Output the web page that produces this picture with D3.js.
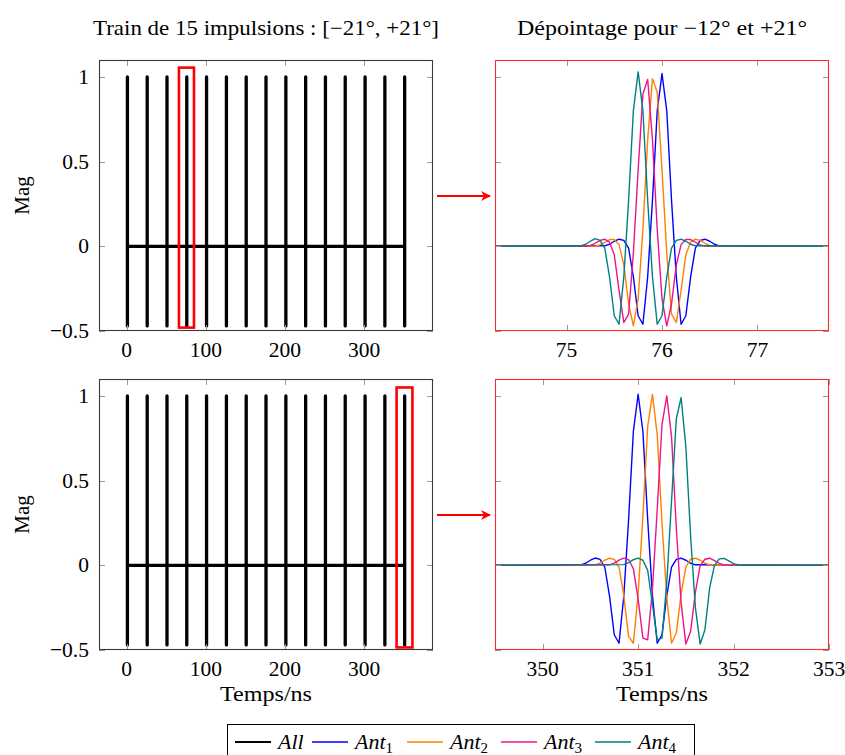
<!DOCTYPE html>
<html><head><meta charset="utf-8">
<script src="https://cdn.jsdelivr.net/npm/d3@7"></script>
<style>body{margin:0;background:#fff}</style></head>
<body><svg id="c" width="845" height="755"></svg>
<script>
// ---------------- data ----------------
const pulseTimes   = [0.9, 25.9, 50.9, 75.9, 100.9, 126.0, 151.0, 176.0, 201.1, 226.1, 251.1, 276.1, 301.2, 326.2, 351.2];
const pulsePeaks   = [1.0, 1.0, 1.0, 1.0, 1.0, 1.0, 1.0, 1.0, 1.0, 1.0, 1.0, 1.0, 1.0, 1.0, 1.0];
const pulseTroughs = [-0.47, -0.47, -0.47, -0.47, -0.47, -0.47, -0.47, -0.47, -0.47, -0.47, -0.47, -0.47, -0.47, -0.47, -0.47];

const leftXTicks = [0, 100, 200, 300];
const yTicks = [-0.5, 0, 0.5, 1];
const yTickLabels = ["\u22120.5", "0", "0.5", "1"];
const topXTicks = [75, 76, 77];
const botXTicks = [350, 351, 352, 353];

const sampleStep = 0.05;
// top-right zoom (pulse n°4, steering -12°)
const topStarts = [75.40, 75.30, 75.20, 75.15];
const topAnt1 = [0.003, 0.012, 0.03, 0.042, 0.035, -0.01, -0.18, -0.41, -0.46, -0.18, 0.27, 0.80, 1.02, 0.80, 0.27, -0.18, -0.46, -0.41, -0.18, -0.01, 0.035, 0.042, 0.03, 0.012, 0.003];
const topAnt2 = [0.001, 0.008, 0.024, 0.04, 0.04, 0.01, -0.11, -0.34, -0.47, -0.31, 0.10, 0.63, 0.99, 0.91, 0.45, -0.04, -0.40, -0.45, -0.26, -0.05, 0.025, 0.042, 0.035, 0.018, 0.005, 0.0];
const topAnt3 = [0.0, 0.005, 0.018, 0.035, 0.042, 0.025, -0.05, -0.26, -0.45, -0.40, -0.04, 0.45, 0.90, 0.985, 0.63, 0.10, -0.31, -0.47, -0.34, -0.11, 0.01, 0.04, 0.04, 0.024, 0.008, 0.001];
const topAnt4 = [0.003, 0.012, 0.03, 0.045, 0.035, -0.01, -0.18, -0.41, -0.46, -0.18, 0.27, 0.80, 1.03, 0.80, 0.27, -0.18, -0.46, -0.41, -0.18, -0.01, 0.035, 0.042, 0.03, 0.012, 0.003];
// bottom-right zoom (pulse n°15, steering +21°)
const botStarts = [350.40, 350.55, 350.70, 350.85];
const botAnt1 = [0.003, 0.012, 0.03, 0.043, 0.035, -0.01, -0.18, -0.41, -0.46, -0.18, 0.27, 0.79, 1.01, 0.79, 0.27, -0.18, -0.46, -0.41, -0.18, -0.01, 0.035, 0.042, 0.03, 0.012, 0.003];
const botAnt2 = [0.003, 0.012, 0.03, 0.042, 0.035, -0.01, -0.18, -0.42, -0.46, -0.17, 0.29, 0.82, 1.01, 0.77, 0.25, -0.19, -0.46, -0.40, -0.17, -0.01, 0.036, 0.042, 0.03, 0.012, 0.003];
const botAnt3 = [0.003, 0.013, 0.031, 0.042, 0.033, -0.02, -0.20, -0.43, -0.44, -0.14, 0.33, 0.83, 1.0, 0.76, 0.22, -0.22, -0.465, -0.39, -0.16, 0.0, 0.036, 0.042, 0.028, 0.011, 0.002];
const botAnt4 = [0.004, 0.016, 0.033, 0.042, 0.03, -0.03, -0.23, -0.44, -0.43, -0.10, 0.38, 0.865, 0.99, 0.70, 0.17, -0.25, -0.465, -0.38, -0.13, 0.0, 0.038, 0.041, 0.026, 0.01, 0.002];

const seriesColors = ["#0000ff", "#ff8000", "#ec148c", "#008080"];
const legendNames = ["All", "Ant", "Ant", "Ant", "Ant"];
const legendSubs = ["", "1", "2", "3", "4"];
const legendColors = ["#000000", "#0000ff", "#ff8000", "#ec148c", "#008080"];

const titleLeft = "Train de 15 impulsions : [\u221221\u00b0, +21\u00b0]";
const titleRight = "D\u00e9pointage pour \u221212\u00b0 et +21\u00b0";
const yLabel = "Mag";
const xLabel = "Temps/ns";

// highlighted windows [x0, x1, y0, y1]
const highlightTop = [66, 85, -0.48, 1.055];
const highlightBot = [341, 361, -0.485, 1.05];

// ---------------- drawing ----------------
const svg = d3.select("#c");
const FONT = "'Liberation Serif', 'DejaVu Serif', serif";
const yDomain = [-0.5, 1.1];
const L = {x0: 99, x1: 433}, R = {x0: 495, x1: 829};
const rowTop = {y0: 60, y1: 331}, rowBot = {y0: 379, y1: 650};

function makePanel(cols, row, xDomain, xTicks, opts) {
  const x = d3.scaleLinear().domain(xDomain).range([cols.x0, cols.x1]);
  const y = d3.scaleLinear().domain(yDomain).range([row.y1, row.y0]);
  const g = svg.append("g");
  const id = "clip" + Math.round(cols.x0) + "_" + Math.round(row.y0);
  svg.append("clipPath").attr("id", id).append("rect")
    .attr("x", cols.x0).attr("y", row.y0).attr("width", cols.x1 - cols.x0).attr("height", row.y1 - row.y0);
  const plot = g.append("g").attr("clip-path", `url(#${id})`);
  const tk = 6;
  const tg = g.append("g").attr("stroke", "#9a9a9a").attr("stroke-width", 1);
  xTicks.forEach(v => {
    const px = Math.round(x(v)) + 0.5;
    tg.append("line").attr("x1", px).attr("x2", px).attr("y1", row.y1).attr("y2", row.y1 - tk);
    tg.append("line").attr("x1", px).attr("x2", px).attr("y1", row.y0).attr("y2", row.y0 + tk);
  });
  yTicks.forEach(v => {
    const py = Math.round(y(v)) + 0.5;
    tg.append("line").attr("x1", cols.x0).attr("x2", cols.x0 + tk).attr("y1", py).attr("y2", py);
    tg.append("line").attr("x1", cols.x1).attr("x2", cols.x1 - tk).attr("y1", py).attr("y2", py);
  });
  const fmt = opts.fmt || (d => String(d));
  xTicks.forEach(v => {
    g.append("text").attr("x", x(v)).attr("y", row.y1 + 26).attr("text-anchor", "middle")
      .attr("font-family", FONT).attr("font-size", 21.5).text(fmt(v));
  });
  if (opts.yLabels) {
    yTicks.forEach((v, i) => {
      g.append("text").attr("x", cols.x0 - 10).attr("y", y(v) + 7).attr("text-anchor", "end")
        .attr("font-family", FONT).attr("font-size", 21.5).text(yTickLabels[i]);
    });
  }
  return {x, y, g, plot, frame: () => g.append("rect").attr("x", cols.x0 + 0.5).attr("y", row.y0 + 0.5)
      .attr("width", cols.x1 - cols.x0 - 1).attr("height", row.y1 - row.y0 - 1)
      .attr("fill", "none").attr("stroke", opts.frameColor).attr("stroke-width", 1.1)};
}

function drawAll(p) {
  const pts = [];
  pulseTimes.forEach((t, i) => {
    pts.push([t, 0], [t, pulsePeaks[i]], [t, pulseTroughs[i]], [t, 0]);
  });
  const line = d3.line().x(d => p.x(d[0])).y(d => p.y(d[1]));
  p.plot.append("path").attr("d", line(pts)).attr("fill", "none").attr("stroke", "#000")
    .attr("stroke-width", 3.3).attr("stroke-linejoin", "round").attr("stroke-linecap", "round");
}

function drawHighlight(p, h) {
  p.g.append("rect").attr("x", p.x(h[0])).attr("y", p.y(h[3]))
    .attr("width", p.x(h[1]) - p.x(h[0])).attr("height", p.y(h[2]) - p.y(h[3]))
    .attr("fill", "none").attr("stroke", "#ff0000").attr("stroke-width", 2.6);
}

function drawSeries(p, starts, arrays) {
  const dom = p.x.domain();
  const line = d3.line().x(d => p.x(d[0])).y(d => p.y(d[1]));
  arrays.forEach((vals, k) => {
    const pts = [[dom[0], 0]];
    vals.forEach((v, i) => pts.push([starts[k] + i * sampleStep, v]));
    pts.push([dom[1], 0]);
    p.plot.append("path").attr("d", line(pts)).attr("fill", "none")
      .attr("stroke", seriesColors[k]).attr("stroke-width", 1.4).attr("stroke-linejoin", "round");
  });
}

// left panels
const lt = makePanel(L, rowTop, [-35, 387], leftXTicks, {yLabels: true, frameColor: "#3a3a3a"});
lt.frame(); drawAll(lt); drawHighlight(lt, highlightTop);
const lb = makePanel(L, rowBot, [-35, 387], leftXTicks, {yLabels: true, frameColor: "#3a3a3a"});
lb.frame(); drawAll(lb); drawHighlight(lb, highlightBot);

// right panels
const rt = makePanel(R, rowTop, [74.25, 77.75], topXTicks, {frameColor: "#ff2a2a"});
drawSeries(rt, topStarts, [topAnt1, topAnt2, topAnt3, topAnt4]); rt.frame();
const rb = makePanel(R, rowBot, [349.5, 353], botXTicks, {frameColor: "#ff2a2a"});
drawSeries(rb, botStarts, [botAnt1, botAnt2, botAnt3, botAnt4]); rb.frame();

// titles
svg.append("text").attr("x", (L.x0 + L.x1) / 2).attr("y", 35).attr("text-anchor", "middle")
  .attr("font-family", FONT).attr("font-size", 21)
  .attr("textLength", 346).attr("lengthAdjust", "spacingAndGlyphs").text(titleLeft);
svg.append("text").attr("x", (R.x0 + R.x1) / 2).attr("y", 35).attr("text-anchor", "middle")
  .attr("font-family", FONT).attr("font-size", 21)
  .attr("textLength", 290).attr("lengthAdjust", "spacingAndGlyphs").text(titleRight);

// axis labels
[rowTop, rowBot].forEach(r => {
  const cy = (r.y0 + r.y1) / 2;
  svg.append("text").attr("transform", `translate(29,${cy}) rotate(-90)`).attr("text-anchor", "middle")
    .attr("font-family", FONT).attr("font-size", 21).text(yLabel);
});
[L, R].forEach(c => {
  svg.append("text").attr("x", (c.x0 + c.x1) / 2).attr("y", 701).attr("text-anchor", "middle")
    .attr("font-family", FONT).attr("font-size", 21)
    .attr("textLength", 92).attr("lengthAdjust", "spacingAndGlyphs").text(xLabel);
});

// arrows
svg.append("defs").append("marker").attr("id", "arr").attr("viewBox", "0 0 10 10")
  .attr("refX", 9).attr("refY", 5).attr("markerWidth", 5).attr("markerHeight", 5).attr("orient", "auto")
  .append("path").attr("d", "M0,0 L10,5 L0,10 L3,5 Z").attr("fill", "#ff0000");
[rowTop, rowBot].forEach(r => {
  const cy = (r.y0 + r.y1) / 2 + 0.5;
  svg.append("line").attr("x1", L.x1 + 4).attr("x2", R.x0 - 5).attr("y1", cy).attr("y2", cy)
    .attr("stroke", "#ff0000").attr("stroke-width", 2).attr("marker-end", "url(#arr)");
});

// legend
const lg = svg.append("g");
lg.append("rect").attr("x", 227.5).attr("y", 724.5).attr("width", 467).attr("height", 34)
  .attr("fill", "#fff").attr("stroke", "#000").attr("stroke-width", 1);
const entryX = [235, 312, 407, 501, 595];
const ly = 742;
legendNames.forEach((nm, i) => {
  const x0 = entryX[i];
  lg.append("line").attr("x1", x0).attr("x2", x0 + 36).attr("y1", ly).attr("y2", ly)
    .attr("stroke", legendColors[i]).attr("stroke-width", i === 0 ? 2 : 1.4);
  const t = lg.append("text").attr("x", x0 + 43).attr("y", 749).attr("font-family", FONT).attr("font-size", 22);
  t.append("tspan").attr("font-style", "italic").text(nm);
  if (legendSubs[i]) t.append("tspan").attr("font-size", 15).attr("dy", 4).text(legendSubs[i]);
});
</script></body></html>
